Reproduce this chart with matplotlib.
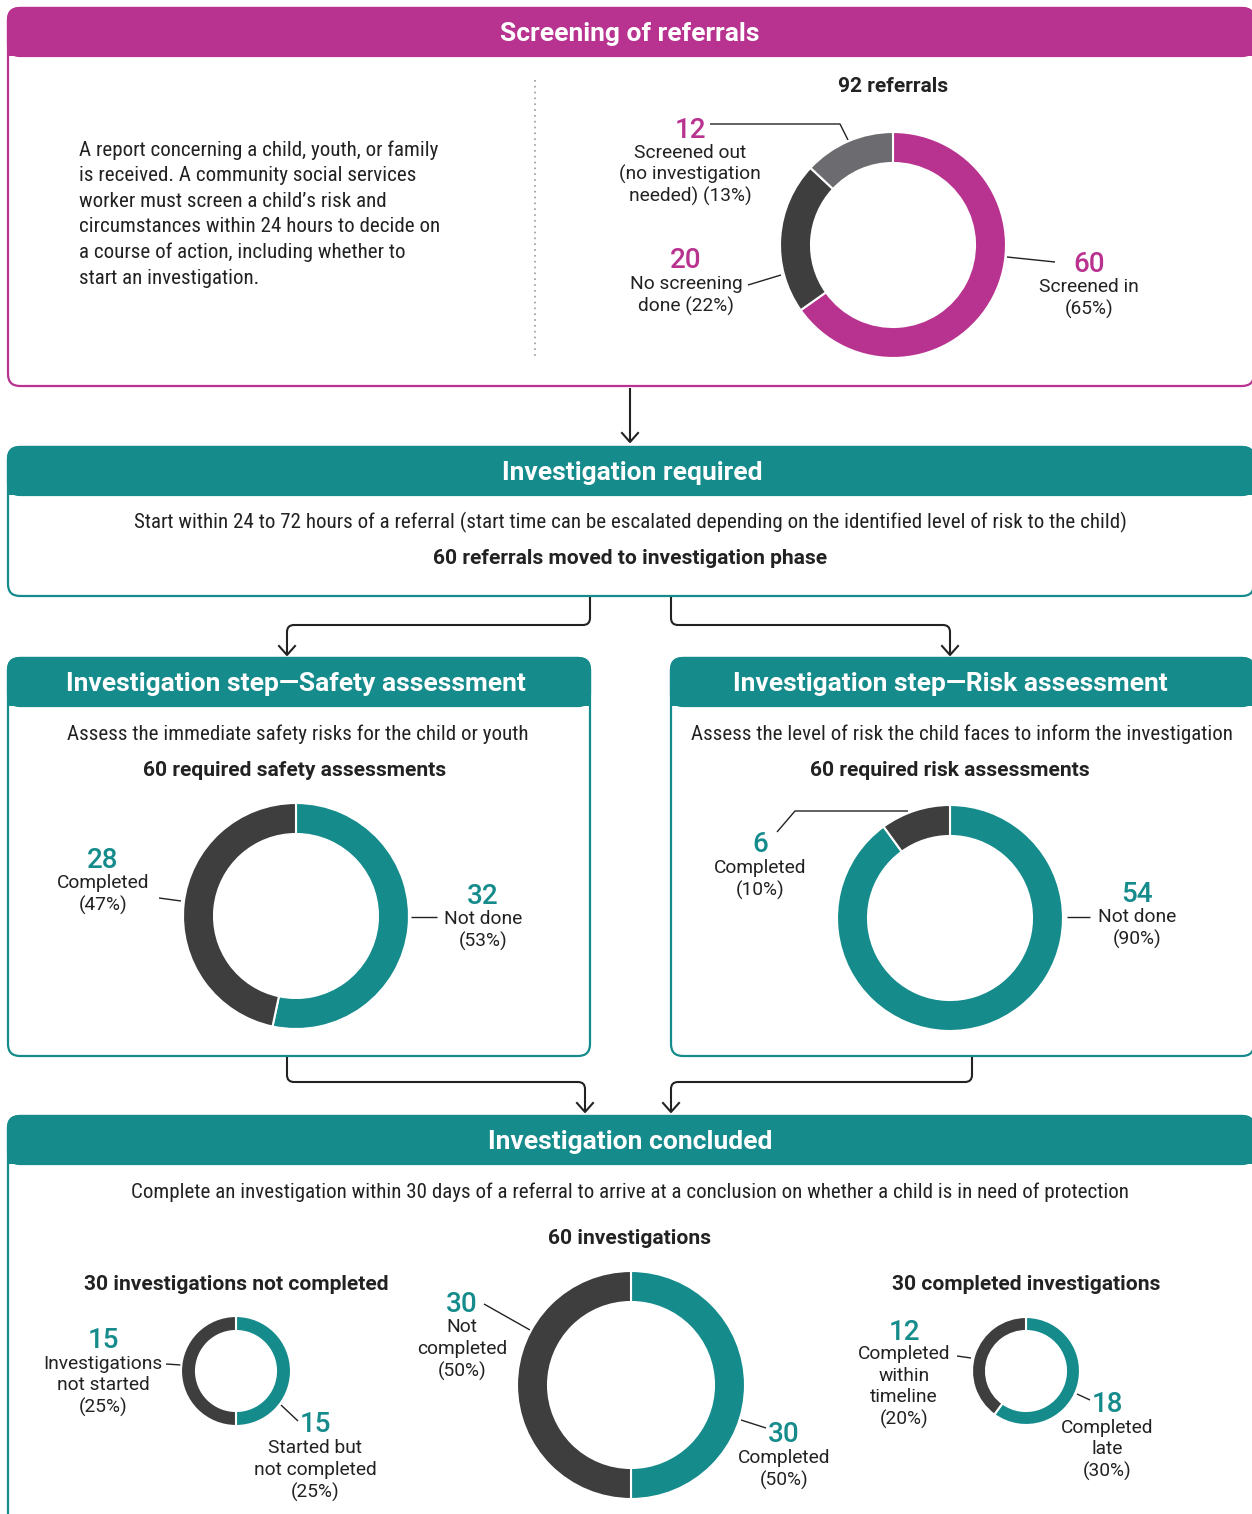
import numpy as np
import matplotlib
matplotlib.use("Agg")
import matplotlib.pyplot as plt
from matplotlib import font_manager
from matplotlib.patches import FancyBboxPatch, Rectangle, PathPatch
from matplotlib.path import Path

# ---- data ----
screen_counts = [60, 20, 12]          # screened in, no screening done, screened out
screen_pcts = ["65%", "22%", "13%"]
safety_counts = [32, 28]              # not done, completed
safety_pcts = ["53%", "47%"]
risk_counts = [54, 6]                 # not done, completed
risk_pcts = ["90%", "10%"]
concluded_counts = [30, 30]           # completed, not completed
concluded_pcts = ["50%", "50%"]
not_completed_counts = [15, 15]       # started but not completed, not started
not_completed_pcts = ["25%", "25%"]
completed_counts = [18, 12]           # completed late, within timeline
completed_pcts = ["30%", "20%"]

MAGENTA = "#B8338F"
TEAL = "#158B8C"
DARK = "#3E3E3E"
GREY = "#6C6C70"
INK = "#222222"

available = {f.name for f in font_manager.fontManager.ttflist}
COND = "Roboto Condensed" if "Roboto Condensed" in available else "Roboto"
plt.rcParams["font.family"] = ["Roboto", "DejaVu Sans"]

BODY = dict(fontsize=15.1, family=COND, color=INK, ha="center", va="center")
BOLD = dict(fontsize=15.1, fontweight="bold", color=INK, ha="center", va="center")

W, H = 1252, 1514
fig = plt.figure(figsize=(W / 100, H / 100), dpi=100)
ax = fig.add_axes([0, 0, 1, 1])
ax.set_xlim(0, W)
ax.set_ylim(H, 0)
ax.axis("off")


def panel(x0, y0, x1, y1, color, title, tx, hh=48):
    ax.add_patch(FancyBboxPatch((x0, y0), x1 - x0, y1 - y0,
                                boxstyle="round,pad=0,rounding_size=12",
                                fc="white", ec=color, lw=1.6))
    ax.add_patch(FancyBboxPatch((x0, y0), x1 - x0, hh,
                                boxstyle="round,pad=0,rounding_size=12",
                                fc=color, ec=color, lw=1.6))
    ax.add_patch(Rectangle((x0, y0 + hh / 2), x1 - x0, hh / 2, fc=color, ec="none"))
    ax.text(tx, y0 + hh / 2 + 2, title, color="white", fontsize=19,
            fontweight="bold", ha="center", va="center")


def lines(x, y0, dy, rows, **kw):
    kw.setdefault("color", INK)
    kw.setdefault("ha", "center")
    for i, s in enumerate(rows):
        ax.text(x, y0 + i * dy + 1, s, va="center", **kw)


def donut(cx, cy, r, ring, counts, colors):
    a = fig.add_axes([(cx - r) / W, 1 - (cy + r) / H, 2 * r / W, 2 * r / H])
    a.pie(counts, colors=colors, startangle=90, counterclock=False, radius=1,
          wedgeprops=dict(width=ring / r, edgecolor="white", linewidth=1.5))
    a.set_xlim(-1, 1)
    a.set_ylim(-1, 1)
    a.set_aspect("equal")
    a.axis("off")


def leader(xs, ys):
    ax.plot(xs, ys, color=INK, lw=1.0, solid_capstyle="butt")


def number(x, y, n, color):
    ax.text(x, y + 2, str(n), color=color, fontsize=20, fontweight="medium",
            ha="center", va="center")


def elbow(pts, r=7):
    verts = [pts[0]]
    codes = [Path.MOVETO]
    for i in range(1, len(pts) - 1):
        p0, p1, p2 = (np.array(p, float) for p in pts[i - 1:i + 2])
        d1 = (p1 - p0) / np.linalg.norm(p1 - p0)
        d2 = (p2 - p1) / np.linalg.norm(p2 - p1)
        verts += [tuple(p1 - d1 * r), tuple(p1), tuple(p1 + d2 * r)]
        codes += [Path.LINETO, Path.CURVE3, Path.CURVE3]
    verts.append(pts[-1])
    codes.append(Path.LINETO)
    ax.add_patch(PathPatch(Path(verts, codes), fill=False, ec=INK, lw=1.5))
    tx, ty = pts[-1]
    ax.plot([tx - 8, tx, tx + 8], [ty - 9, ty, ty - 9], color=INK, lw=1.5)


label_kw = dict(fontsize=13.8)

# ---- panel 1: screening ----
panel(8, 8, 1254, 386, MAGENTA, "Screening of referrals", 630)
intro = ["A report concerning a child, youth, or family",
         "is received. A community social services",
         "worker must screen a child\u2019s risk and",
         "circumstances within 24 hours to decide on",
         "a course of action, including whether to",
         "start an investigation."]
lines(79, 149, 25.6, intro, ha="left", fontsize=15.1, family=COND)
ax.plot([535, 535], [80, 356], color="#9a9a9a", lw=1.2, ls=(0, (1, 2.5)))

ax.text(893, 86, "92 referrals", **BOLD)
donut(893, 245, 113, 31, screen_counts, [MAGENTA, DARK, GREY])
number(1089, 262, screen_counts[0], MAGENTA)
lines(1089, 286, 22, ["Screened in", f"({screen_pcts[0]})"], **label_kw)
leader([1007, 1055], [257, 262])
number(686, 259, screen_counts[1], MAGENTA)
lines(686, 283, 22, ["No screening", f"done ({screen_pcts[1]})"], **label_kw)
leader([748, 781], [285, 275])
number(690, 128, screen_counts[2], MAGENTA)
lines(690, 152, 21.5, ["Screened out", "(no investigation", f"needed) ({screen_pcts[2]})"],
      **label_kw)
leader([710, 840, 848], [124, 124, 140])

elbow([(630, 388), (630, 442)])

# ---- panel 2: investigation required ----
panel(8, 447, 1254, 596, TEAL, "Investigation required", 632)
ax.text(630, 522, "Start within 24 to 72 hours of a referral (start time can be escalated "
        "depending on the identified level of risk to the child)", **BODY)
ax.text(630, 559, "60 referrals moved to investigation phase", **BOLD)

elbow([(590, 597), (590, 625), (287, 625), (287, 655)])
elbow([(671, 597), (671, 625), (950, 625), (950, 655)])

# ---- panel 3: safety assessment ----
panel(8, 658, 590, 1056, TEAL, "Investigation step\u2014Safety assessment", 296)
ax.text(298, 734, "Assess the immediate safety risks for the child or youth", **BODY)
ax.text(295, 771, "60 required safety assessments", **BOLD)
donut(296, 916, 113, 31, safety_counts, [TEAL, DARK])
number(483, 894, safety_counts[0], TEAL)
lines(483, 918, 22, ["Not done", f"({safety_pcts[0]})"], **label_kw)
leader([411, 437], [917, 917])
number(103, 859, safety_counts[1], TEAL)
lines(103, 882, 22, ["Completed", f"({safety_pcts[1]})"], **label_kw)
leader([159, 181], [898, 901])

# ---- panel 4: risk assessment ----
panel(671, 658, 1254, 1056, TEAL, "Investigation step\u2014Risk assessment", 950)
ax.text(962, 734, "Assess the level of risk the child faces to inform the investigation",
        **BODY)
ax.text(950, 771, "60 required risk assessments", **BOLD)
donut(950, 918, 113, 31, risk_counts, [TEAL, DARK])
number(1137, 892, risk_counts[0], TEAL)
lines(1137, 916, 22, ["Not done", f"({risk_pcts[0]})"], **label_kw)
leader([1067, 1090], [917, 917])
number(760, 843, risk_counts[1], TEAL)
lines(760, 867, 22, ["Completed", f"({risk_pcts[1]})"], **label_kw)
leader([777, 795, 908], [832, 811, 811])

elbow([(287, 1057), (287, 1082), (585, 1082), (585, 1112)])
elbow([(972, 1057), (972, 1082), (671, 1082), (671, 1112)])

# ---- panel 5: investigation concluded ----
panel(8, 1116, 1254, 1540, TEAL, "Investigation concluded", 630)
ax.text(630, 1192, "Complete an investigation within 30 days of a referral to arrive at a "
        "conclusion on whether a child is in need of protection", **BODY)
ax.text(630, 1239, "60 investigations", **BOLD)
donut(631, 1385, 114, 31, concluded_counts, [TEAL, DARK])
number(784, 1432, concluded_counts[0], TEAL)
lines(784, 1457, 22, ["Completed", f"({concluded_pcts[0]})"], **label_kw)
leader([741, 766], [1420, 1428])
number(462, 1303, concluded_counts[1], TEAL)
lines(462, 1326, 22, ["Not", "completed", f"({concluded_pcts[1]})"], **label_kw)
leader([484, 530], [1304, 1330])

ax.text(236, 1285, "30 investigations not completed", **BOLD)
donut(236, 1371, 55, 15, not_completed_counts, [TEAL, DARK])
number(315, 1423, not_completed_counts[0], TEAL)
lines(315, 1447, 22, ["Started but", "not completed", f"({not_completed_pcts[0]})"],
      **label_kw)
leader([281, 298], [1405, 1421])
number(103, 1339, not_completed_counts[1], TEAL)
lines(103, 1363, 21.5, ["Investigations", "not started", f"({not_completed_pcts[1]})"],
      **label_kw)
leader([166, 181], [1364, 1365])

ax.text(1026, 1285, "30 completed investigations", **BOLD)
donut(1026, 1371, 54, 14, completed_counts, [TEAL, DARK])
number(1107, 1402, completed_counts[0], TEAL)
lines(1107, 1427, 21.5, ["Completed", "late", f"({completed_pcts[0]})"], **label_kw)
leader([1077, 1090], [1394, 1400])
number(904, 1330, completed_counts[1], TEAL)
lines(904, 1353, 21.7, ["Completed", "within", "timeline", f"({completed_pcts[1]})"],
      **label_kw)
leader([957, 971], [1356, 1358])

fig.savefig("out.png", dpi=100, facecolor="white")
